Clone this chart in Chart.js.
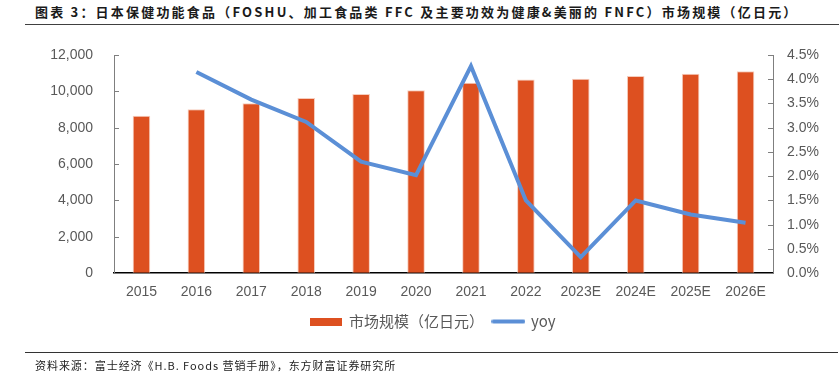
<!DOCTYPE html>
<html>
<head>
<meta charset="utf-8">
<script src="https://cdn.jsdelivr.net/npm/chart.js@4"></script>
<style>
  body { margin: 0; background: #fff; }
  #wrap { position: relative; width: 839px; height: 372px; overflow: hidden; }
  #title { position: absolute; left: 35px; top: 2px; font: bold 13px "Noto Sans CJK SC"; letter-spacing: 2.2px; color: #1a1a1a; white-space: nowrap; }
  #topline { position: absolute; left: 25px; right: 0; top: 24px; height: 0; border-top: 1.5px solid #404040; }
  #botline { position: absolute; left: 25px; right: 1px; top: 352px; height: 0; border-top: 1.5px solid #333; }
  #source { position: absolute; left: 35px; top: 357px; font: 11px "Noto Sans CJK SC"; letter-spacing: 0.95px; color: #222; white-space: nowrap; }
  canvas { position: absolute; left: 0; top: 0; }
</style>
</head>
<body>
<div id="wrap">
  <div id="title">图表 3：日本保健功能食品（FOSHU、加工食品类 FFC 及主要功效为健康&amp;美丽的 FNFC）市场规模（亿日元）</div>
  <div id="topline"></div>
  <canvas id="myChart" width="839" height="372"></canvas>
  <div id="botline"></div>
  <div id="source">资料来源：富士经济《H.B. Foods 营销手册》，东方财富证券研究所</div>
</div>
<script>
// data
const years = ['2015','2016','2017','2018','2019','2020','2021','2022','2023E','2024E','2025E','2026E'];
const marketSize = [8660, 9020, 9350, 9640, 9860, 10060, 10480, 10650, 10690, 10850, 10970, 11100];
const yoy = [null, 4.15, 3.58, 3.12, 2.30, 2.02, 4.27, 1.50, 0.33, 1.50, 1.21, 1.04];
const leftTicks = [0, 2000, 4000, 6000, 8000, 10000, 12000];
const rightTicks = [0, 0.5, 1, 1.5, 2, 2.5, 3, 3.5, 4, 4.5];

const barColor = '#DD5020';
const lineColor = '#5B8FD6';
const textColor = '#595959';

function swatch(w, h, color) {
  let c = document.createElement('canvas');
  c.width = w; c.height = h;
  let g = c.getContext('2d');
  g.fillStyle = color;
  if (h > 6) g.fillRect(0, 0, w, h);
  else { g.lineCap = 'round'; g.strokeStyle = color; g.lineWidth = 4; g.beginPath(); g.moveTo(2, h/2); g.lineTo(w-2, h/2); g.stroke(); }
  return c;
}
const barSwatch = swatch(32, 8, barColor);
const lineSwatch = swatch(34, 6, lineColor);

// small tick marks pointing into the plot, like the original
const innerTicks = {
  id: 'innerTicks',
  afterDraw(chart) {
    let ctx = chart.ctx;
    ctx.save();
    ctx.strokeStyle = '#7f7f7f';
    ctx.lineWidth = 1;
    [['y', 1], ['y1', -1]].forEach(([id, dir]) => {
      let s = chart.scales[id];
      let x = id === 'y' ? s.right : s.left;
      s.ticks.forEach(t => {
        let py = Math.round(s.getPixelForValue(t.value)) + 0.5;
        ctx.beginPath();
        ctx.moveTo(x, py);
        ctx.lineTo(x + dir * 5, py);
        ctx.stroke();
      });
    });
    ctx.restore();
  }
};

const ctx = document.getElementById('myChart').getContext('2d');
const myChart = new Chart(ctx, {
  type: 'bar',
  data: {
    labels: years,
    datasets: [
      {
        type: 'line',
        label: 'yoy',
        data: yoy,
        yAxisID: 'y1',
        borderColor: lineColor,
        backgroundColor: lineColor,
        borderWidth: 4,
        pointRadius: 0,
        tension: 0,
        order: 0
      },
      {
        label: '市场规模（亿日元）',
        data: marketSize,
        yAxisID: 'y',
        backgroundColor: barColor,
        borderColor: '#f6cdbd',
        borderWidth: 1,
        barPercentage: 0.64,
        categoryPercentage: 0.5,
        order: 1
      }
    ]
  },
  options: {
    responsive: false,
    animation: false,
    layout: { padding: { top: 55, bottom: 33, left: 28, right: 0 } },
    plugins: {
      tooltip: { enabled: false },
      legend: {
        position: 'bottom',
        labels: {
          usePointStyle: true,
          pointStyleWidth: 30,
          color: textColor,
          font: { size: 15, family: '"Noto Sans CJK SC"' },
          padding: 2,
          generateLabels: chart => [
            { text: '市场规模（亿日元）\u3000', pointStyle: barSwatch, fontColor: textColor, lineWidth: 0, datasetIndex: 1 },
            { text: 'yoy', pointStyle: lineSwatch, fontColor: textColor, lineWidth: 0, datasetIndex: 0 }
          ]
        }
      }
    },
    scales: {
      x: {
        grid: { display: false, drawTicks: false },
        border: { color: '#000', width: 1.5 },
        ticks: { color: textColor, font: { size: 14, family: '"Liberation Sans"' }, padding: 11, maxRotation: 0, autoSkip: false }
      },
      y: {
        position: 'left',
        min: 0, max: 12000,
        afterBuildTicks: s => { s.ticks = leftTicks.map(v => ({ value: v })); },
        afterFit: s => { s.width = 86; },
        grid: { drawOnChartArea: false, drawTicks: false },
        border: { color: '#7f7f7f', width: 1 },
        ticks: { color: textColor, font: { size: 14, family: '"Liberation Sans"' }, padding: 21,
                 callback: v => v.toLocaleString('en-US') }
      },
      y1: {
        position: 'right',
        min: 0, max: 4.5,
        afterBuildTicks: s => { s.ticks = rightTicks.map(v => ({ value: v })); },
        afterFit: s => { s.width = 66; },
        grid: { drawOnChartArea: false, drawTicks: false },
        border: { color: '#7f7f7f', width: 1 },
        ticks: { color: textColor, font: { size: 14, family: '"Liberation Sans"' }, padding: 14,
                 callback: v => v.toFixed(1) + '%' }
      }
    }
  },
  plugins: [innerTicks]
});
</script>
</body>
</html>
